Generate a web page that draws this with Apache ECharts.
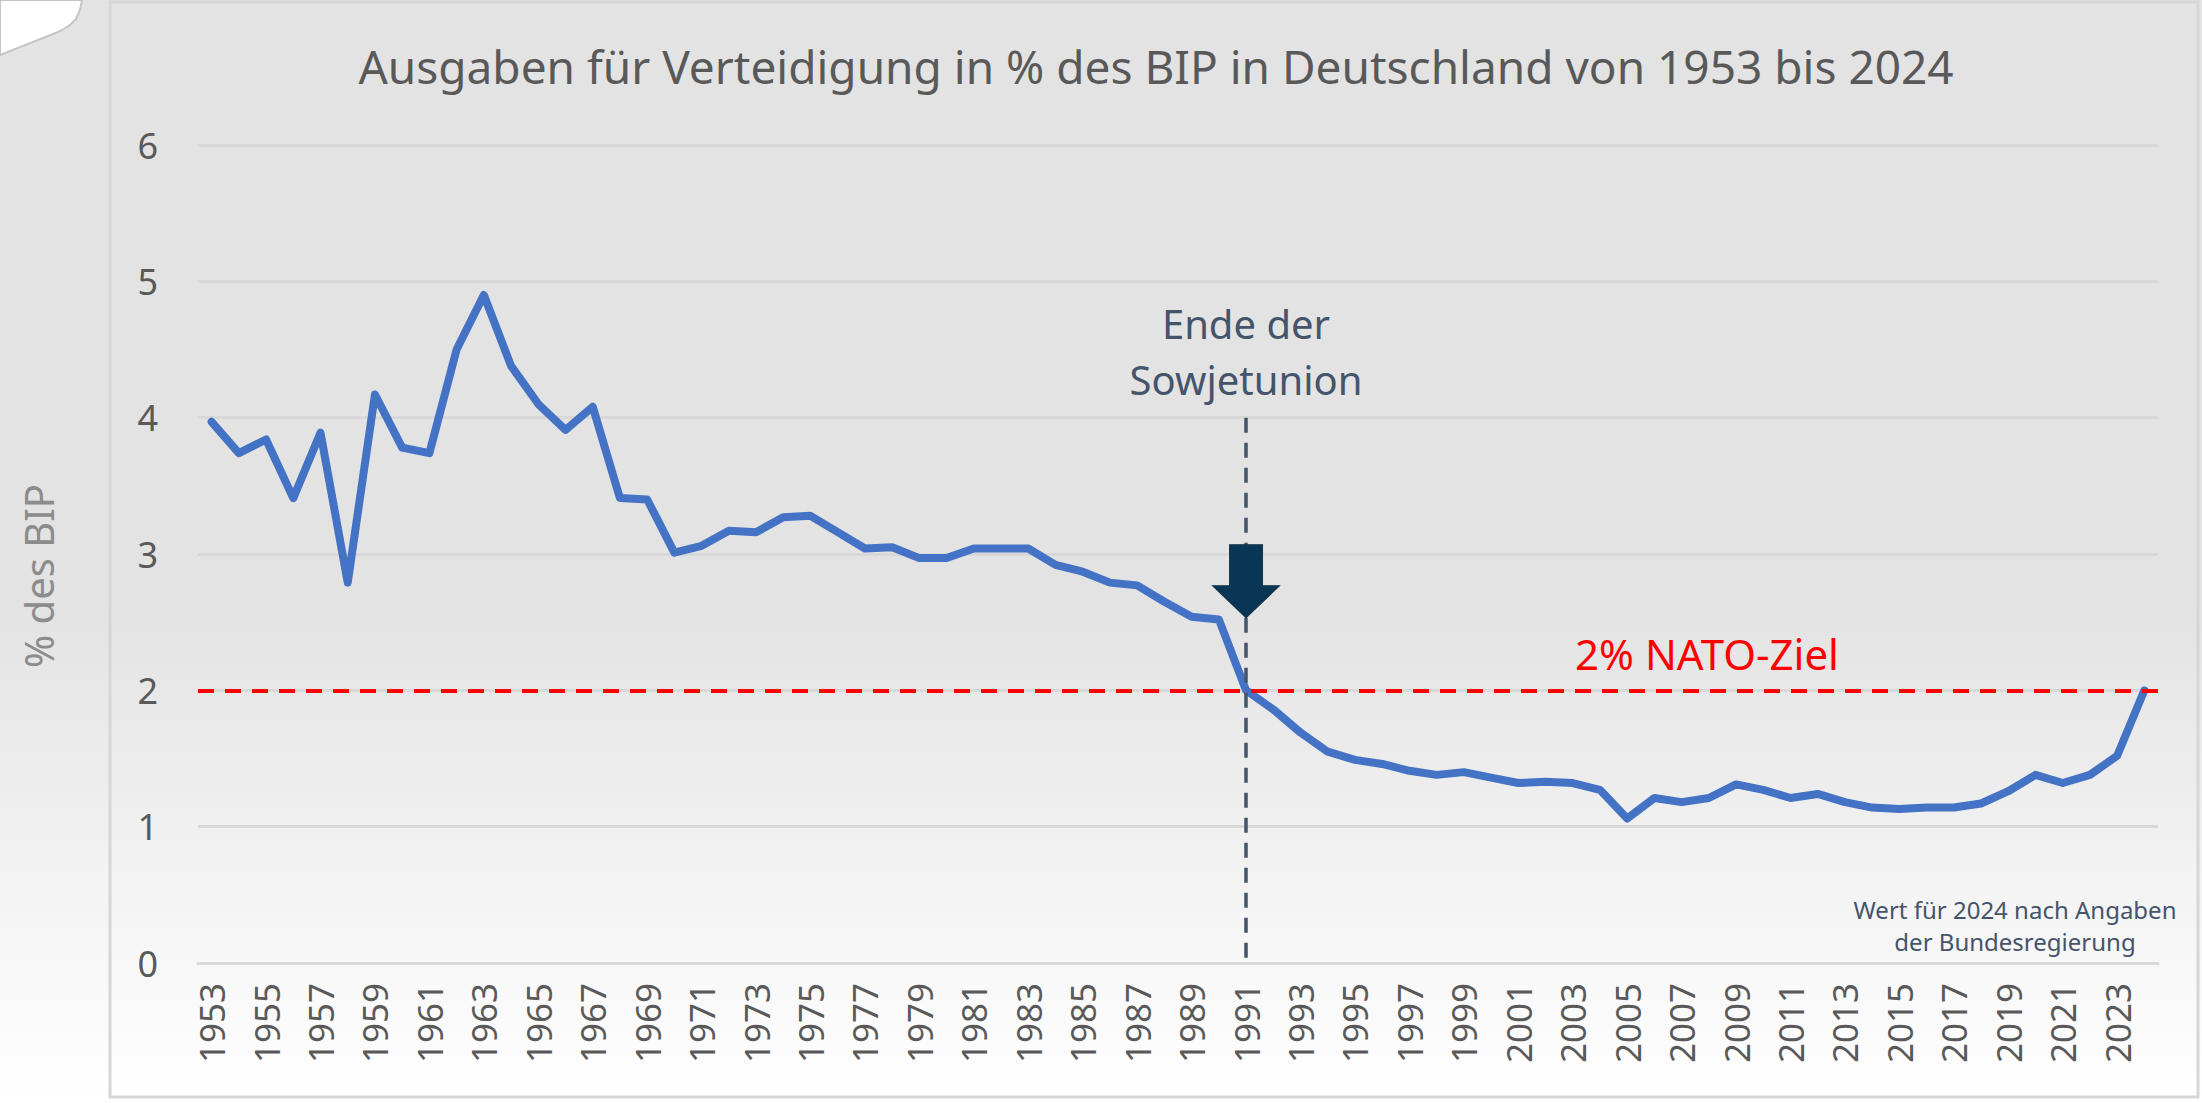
<!DOCTYPE html>
<html>
<head>
<meta charset="utf-8">
<script src="https://cdn.jsdelivr.net/npm/echarts@6/dist/echarts.min.js"></script>
<style>
  html, body { margin: 0; padding: 0; background: #ffffff; }
  #main { width: 2202px; height: 1103px; }
</style>
</head>
<body>
<div id="main"></div>
<script>
// Jahre (Kategorien)
var years = ['1953','1954','1955','1956','1957','1958','1959','1960','1961','1962',
             '1963','1964','1965','1966','1967','1968','1969','1970','1971','1972',
             '1973','1974','1975','1976','1977','1978','1979','1980','1981','1982',
             '1983','1984','1985','1986','1987','1988','1989','1990','1991','1992',
             '1993','1994','1995','1996','1997','1998','1999','2000','2001','2002',
             '2003','2004','2005','2006','2007','2008','2009','2010','2011','2012',
             '2013','2014','2015','2016','2017','2018','2019','2020','2021','2022',
             '2023','2024'];

// Verteidigungsausgaben in % des BIP
var spending = [3.97, 3.74, 3.84, 3.41, 3.89, 2.79, 4.17, 3.78, 3.74, 4.50,
                4.90, 4.38, 4.10, 3.91, 4.08, 3.41, 3.40, 3.01, 3.06, 3.17,
                3.16, 3.27, 3.28, 3.16, 3.04, 3.05, 2.97, 2.97, 3.04, 3.04,
                3.04, 2.92, 2.87, 2.79, 2.77, 2.65, 2.54, 2.52, 2.00, 1.86,
                1.69, 1.55, 1.49, 1.46, 1.41, 1.38, 1.40, 1.36, 1.32, 1.33,
                1.32, 1.27, 1.06, 1.21, 1.18, 1.21, 1.31, 1.27, 1.21, 1.24,
                1.18, 1.14, 1.13, 1.14, 1.14, 1.17, 1.26, 1.38, 1.32, 1.38,
                1.52, 2.00];

var natoGoal = 2;
var eventYear = '1991';
var eventLineTop = 4;
var arrowValue = 2.80;

var fontName = '"Noto Sans", "Open Sans", sans-serif';

var myChart = echarts.init(document.getElementById('main'), null, { renderer: 'svg' });

var option = {
    animation: false,
    backgroundColor: {
        type: 'linear', x: 0, y: 0, x2: 0, y2: 1,
        colorStops: [
            { offset: 0, color: '#e3e3e3' },
            { offset: 0.55, color: '#e3e3e3' },
            { offset: 0.88, color: '#f8f8f8' },
            { offset: 1, color: '#ffffff' }
        ]
    },
    grid: { left: 198, right: 44, top: 145, bottom: 140 },
    xAxis: {
        type: 'category', boundaryGap: true, data: years,
        axisLine: { show: true, lineStyle: { color: '#d9d9d9', width: 3 } },
        axisTick: { show: false },
        axisLabel: { rotate: 90, interval: 1, margin: 20, color: '#595959', fontSize: 35, fontFamily: fontName }
    },
    yAxis: {
        type: 'value', min: 0, max: 6, interval: 1,
        axisLine: { show: false }, axisTick: { show: false },
        axisLabel: { margin: 40, color: '#595959', fontSize: 36, fontFamily: fontName },
        splitLine: { lineStyle: { color: '#d8d8d8', width: 3 } }
    },
    series: [{
        name: 'Ausgaben', type: 'line', data: spending,
        symbol: 'none', smooth: false,
        lineStyle: { color: '#4472c4', width: 8, join: 'round', cap: 'round' },
        z: 3,
        markLine: {
            silent: true, symbol: 'none', label: { show: false },
            data: [
                { yAxis: natoGoal, lineStyle: { color: '#ff0000', width: 4, type: [16, 11] } },
                [
                    { coord: [eventYear, eventLineTop], lineStyle: { color: '#44546a', width: 3.5, type: [15, 10] } },
                    { coord: [eventYear, 0] }
                ]
            ]
        },
        markPoint: {
            silent: true,
            label: { show: false },
            data: [{
                coord: [eventYear, arrowValue],
                symbol: 'path://M17,0 L50,0 L50,41 L67,41 L33.5,73 L0,41 L17,41 Z',
                symbolSize: [67, 73],
                symbolKeepAspect: false,
                itemStyle: { color: '#0a3656', borderColor: '#14324c', borderWidth: 1 }
            }]
        }
    }],
    graphic: [
        // Rahmen
        { type: 'rect', shape: { x: 110, y: 2, width: 2088, height: 1095 }, silent: true,
          style: { fill: 'none', stroke: '#d6d6d6', lineWidth: 3 } },
        // weisse Ecke oben links
        { type: 'polygon', silent: true,
          shape: { points: [[0, 0], [82, 0], [80, 10], [76, 19], [70, 25], [62, 30], [58, 32], [0, 55]] },
          style: { fill: '#ffffff', stroke: '#c4c4c4', lineWidth: 2 } },
        // Titel
        { type: 'text', x: 1156, y: 66, silent: true,
          style: { text: 'Ausgaben für Verteidigung in % des BIP in Deutschland von 1953 bis 2024',
                   fill: '#595959', fontSize: 46, fontFamily: fontName, align: 'center', verticalAlign: 'middle' } },
        // Achsenname
        { type: 'text', x: 38, y: 576, rotation: Math.PI / 2, silent: true,
          style: { text: '% des BIP', fill: '#8c8c8c', fontSize: 40, fontFamily: fontName, align: 'center', verticalAlign: 'middle' } },
        // Ende der Sowjetunion
        { type: 'text', x: 1246, y: 351, silent: true,
          style: { text: 'Ende der\nSowjetunion', fill: '#44546a', fontSize: 40, lineHeight: 56,
                   fontFamily: fontName, align: 'center', verticalAlign: 'middle' } },
        // NATO-Ziel
        { type: 'text', x: 1707, y: 653, silent: true,
          style: { text: '2% NATO-Ziel', fill: '#ff0000', fontSize: 42, fontFamily: fontName, align: 'center', verticalAlign: 'middle' } },
        // Fussnote
        { type: 'text', x: 2015, y: 925, silent: true,
          style: { text: 'Wert für 2024 nach Angaben\nder Bundesregierung', fill: '#44546a', fontSize: 24, lineHeight: 32,
                   fontFamily: fontName, align: 'center', verticalAlign: 'middle' } }
    ]
};

myChart.setOption(option);
window.addEventListener("resize", function() { myChart.resize(); });
</script>
</body>
</html>
